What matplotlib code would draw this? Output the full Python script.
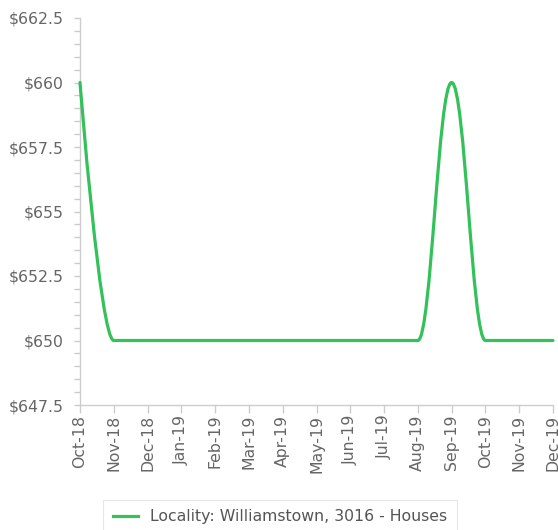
import matplotlib
matplotlib.use("Agg")
import matplotlib.pyplot as plt
from matplotlib.path import Path
from matplotlib.patches import PathPatch
from matplotlib.lines import Line2D
import numpy as np

plt.rcParams['font.family'] = ['DejaVu Sans']

months = ["Oct-18", "Nov-18", "Dec-18", "Jan-19", "Feb-19", "Mar-19", "Apr-19",
          "May-19", "Jun-19", "Jul-19", "Aug-19", "Sep-19", "Oct-19", "Nov-19", "Dec-19"]
values = [660, 650, 650, 650, 650, 650, 650, 650, 650, 650, 650, 660, 650, 650, 650]
series_name = "Locality: Williamstown, 3016 - Houses"
yticks = [647.5, 650, 652.5, 655, 657.5, 660, 662.5]

color = "#33c159"
grey_txt = "#666666"
axis_col = "#cccccc"
fs = 11.3

fig = plt.figure(figsize=(5.58, 5.30), dpi=100)
ax = fig.add_axes([80/558, 1-405/530, (553-80)/558, (405-18)/530])

x = np.arange(len(values), dtype=float)
y = np.array(values, dtype=float)

# Highcharts-style spline control points
def cont(i):
    s, d = 1.5, 2.5
    px, py = x[i], y[i]
    lx, ly = x[i-1], y[i-1]
    nx, ny = x[i+1], y[i+1]
    lcx = (s*px + lx)/d; lcy = (s*py + ly)/d
    rcx = (s*px + nx)/d; rcy = (s*py + ny)/d
    if rcx != lcx:
        corr = ((rcy - lcy)*(rcx - px))/(rcx - lcx) + py - rcy
        lcy += corr; rcy += corr
    if lcy > max(ly, py):
        lcy = max(ly, py); rcy = 2*py - lcy
    elif lcy < min(ly, py):
        lcy = min(ly, py); rcy = 2*py - lcy
    if rcy > max(py, ny):
        rcy = max(py, ny); lcy = 2*py - rcy
    elif rcy < min(py, ny):
        rcy = min(py, ny); lcy = 2*py - rcy
    return (lcx, lcy), (rcx, rcy)

n = len(x)
lefts = [None]*n; rights = [None]*n
for i in range(n):
    if i == 0 or i == n-1:
        lefts[i] = (x[i], y[i]); rights[i] = (x[i], y[i])
    else:
        lefts[i], rights[i] = cont(i)

verts = [(x[0], y[0])]
codes = [Path.MOVETO]
for i in range(1, n):
    verts += [rights[i-1], lefts[i], (x[i], y[i])]
    codes += [Path.CURVE4]*3
path = Path(verts, codes)
ax.add_patch(PathPatch(path, facecolor="none", edgecolor=color, lw=2.3,
                       capstyle="round", joinstyle="round", clip_on=False, zorder=3))

ax.set_xlim(0, n-1)
ax.set_ylim(647.5, 662.5)
ax.set_yticks(yticks)
ax.set_yticklabels(["$" + (f"{v:g}") for v in yticks])
ax.set_yticks(np.arange(647.5, 662.51, 0.5), minor=True)
ax.set_xticks(x)
ax.set_xticklabels(months, rotation=90)

for s in ["top", "right"]:
    ax.spines[s].set_visible(False)
for s in ["left", "bottom"]:
    ax.spines[s].set_color(axis_col)
    ax.spines[s].set_linewidth(1)

ax.tick_params(axis="y", which="major", length=4, width=1, color=axis_col,
               labelcolor=grey_txt, labelsize=fs, pad=7.5)
ax.tick_params(axis="y", which="minor", length=4, width=1, color=axis_col)
ax.tick_params(axis="x", which="major", length=6, width=1, color=axis_col,
               labelcolor=grey_txt, labelsize=fs, pad=1)

handle = Line2D([0], [0], color=color, lw=2.3)
leg = fig.legend([handle], [series_name], loc="upper center",
                 bbox_to_anchor=(280/558, 1-492/530), frameon=True, fancybox=False,
                 edgecolor="#e0e0e0", fontsize=fs, handlelength=1.6,
                 borderpad=0.6, labelcolor="#555555")
leg.get_frame().set_linewidth(0.8)

fig.savefig("out.png", dpi=100)
